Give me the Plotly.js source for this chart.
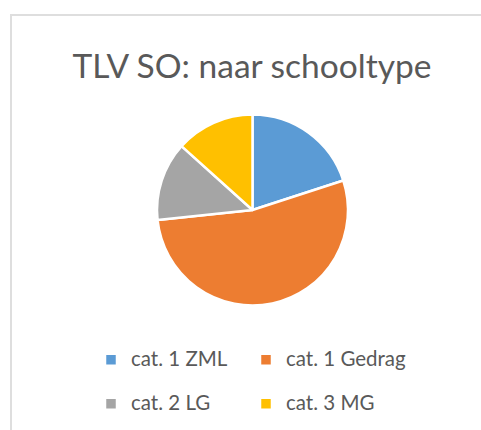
<!DOCTYPE html>
<html>
<head>
<meta charset="utf-8">
<script src="https://cdn.plot.ly/plotly-3.0.1.min.js"></script>
<style>
  html, body { margin: 0; padding: 0; background: #fff; }
  #wrap { position: relative; width: 481px; height: 430px; }
  #chart { position: absolute; left: 0; top: 0; width: 481px; height: 430px; }
  #frame { position: absolute; left: 10px; top: 14px; width: 471px; height: 416px;
           border-left: 2px solid #dedede; border-top: 2px solid #dedede; box-sizing: border-box;
           pointer-events: none; }
</style>
</head>
<body>
<div id="wrap">
  <div id="chart"></div>
  <div id="frame"></div>
</div>
<script>
const categories = ["cat. 1 ZML", "cat. 1 Gedrag", "cat. 2 LG", "cat. 3 MG"];
const values = [15, 40, 10, 10];
const colors = ["#5B9BD5", "#ED7D31", "#A5A5A5", "#FFC000"];
const titleText = "TLV SO: naar schooltype";

const trace = {
  type: "pie",
  labels: categories.map(c => "<span style='font-size:20.5px'>" + c + "</span><br> "),
  values: values,
  sort: false,
  direction: "clockwise",
  rotation: 0,
  textinfo: "none",
  hoverinfo: "value+percent",
  marker: { colors: colors, line: { color: "#ffffff", width: 2.5 } },
  domain: { x: [0.2399, 0.8349], y: [0.2895, 0.7337] }
};

const layout = {
  width: 481,
  height: 430,
  margin: { l: 80, r: 80, t: 0, b: 0, autoexpand: false },
  paper_bgcolor: "#ffffff",
  plot_bgcolor: "#ffffff",
  font: { family: "Lato, 'Open Sans', sans-serif", color: "#595959" },
  title: {
    text: titleText,
    font: { family: "Lato, 'Open Sans', sans-serif", size: 33.5, color: "#595959" },
    xref: "container", x: 252 / 481, xanchor: "center",
    yref: "container", y: 1 - 66.5 / 430, yanchor: "middle"
  },
  showlegend: true,
  legend: {
    orientation: "h",
    x: (91 - 80) / 321, xanchor: "left",
    y: (430 - 343) / 430, yanchor: "top",
    entrywidth: 110,
    valign: "top",
    font: { family: "Lato, 'Open Sans', sans-serif", size: 15.8, color: "#595959" },
    bgcolor: "rgba(0,0,0,0)"
  }
};

Plotly.newPlot("chart", [trace], layout, { displayModeBar: false, staticPlot: true }).then(gd => {
  // let the longest legend label extend past the fixed entry width instead of being clipped
  gd.querySelectorAll(".legend [clip-path]").forEach(el => el.removeAttribute("clip-path"));
});
</script>
</body>
</html>
